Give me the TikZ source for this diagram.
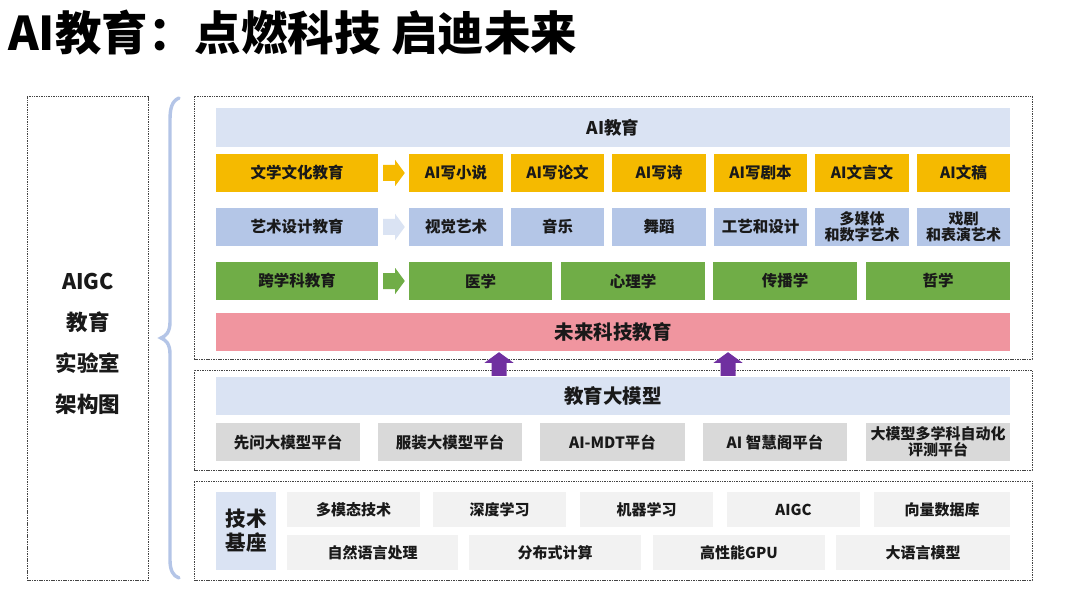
\documentclass[tikz,border=0pt]{standalone}
\usepackage{fontspec}
\setmainfont{Noto Sans CJK SC}
\usetikzlibrary{calc}
\definecolor{cyel}{HTML}{F5BA00}
\definecolor{clav}{HTML}{B4C6E7}
\definecolor{clight}{HTML}{DAE3F3}
\definecolor{cgreen}{HTML}{70AD47}
\definecolor{cpink}{HTML}{F0959F}
\definecolor{cgrey}{HTML}{D9D9D9}
\definecolor{cpale}{HTML}{F2F2F2}
\definecolor{cpurple}{HTML}{7030A0}
\definecolor{cbrace}{HTML}{B4C5E7}
\definecolor{cdash}{HTML}{444444}
\newcommand\bx[7]{\node[#6, minimum width={(#4-#2)*1pt}, minimum height={(#5-#3)*1pt}] (#1) at ({(#2+#4)/2},{(#3+#5)/2}) {#7};}
\begin{document}
\begin{tikzpicture}[x=1pt,y=-1pt,
  base/.style={inner sep=0pt, text=black!90, font=\bfseries\fontsize{15.5}{17}\selectfont, align=center},
  yel/.style={base, fill=cyel},
  lav/.style={base, fill=clav},
  grn/.style={base, fill=cgreen},
  gry/.style={base, fill=cgrey},
  pale/.style={base, fill=cpale, font=\bfseries\fontsize{15}{17}\selectfont},
  bigbar/.style={base, font=\bfseries\fontsize{19.5}{21}\selectfont},
  dashbox/.style={draw=cdash, line width=0.7pt, dash pattern=on 1.5pt off 0.9pt},
  two/.style={font=\bfseries\fontsize{15}{16}\selectfont}
]
\useasboundingbox (0,0) rectangle (1080,607);
\fill[white] (0,0) rectangle (1080,607);

% title
\node[anchor=west, inner sep=0pt, font=\bfseries\fontsize{46.5}{50}\selectfont] (title) at (8,33) {AI教育：点燃科技 启迪未来};

% dashed frames
\bx{leftbox}{27}{96}{148}{580}{dashbox}{}
\bx{topbox}{194}{96}{1032}{359}{dashbox}{}
\bx{midbox}{194}{370}{1032}{470}{dashbox}{}
\bx{botbox}{194}{481}{1032}{580}{dashbox}{}

% left label
\node[base, font=\bfseries\fontsize{21.5}{41}\selectfont] (lab) at (88,344) {AIGC\\教育\\实验室\\架构图};

% brace
\draw[cbrace, line width=3.4pt, line cap=round]
  (179,98) .. controls (172,101) and (170,108) .. (170,120)
  -- (170,322) .. controls (170,332) and (166,336) .. (161,338)
  .. controls (166,340) and (170,344) .. (170,354)
  -- (170,560) .. controls (170,570) and (173,576) .. (179,578);

% header
\bx{hdr}{216}{108}{1010}{147}{bigbar, fill=clight, font=\bfseries\fontsize{17.5}{19}\selectfont}{AI教育}

% row 1
\bx{lit}{216}{154}{378}{192}{yel}{文学文化教育}
\bx{a1}{409}{154}{503}{192}{yel}{AI写小说}
\bx{a2}{511}{154}{604}{192}{yel}{AI写论文}
\bx{a3}{612}{154}{706}{192}{yel}{AI写诗}
\bx{a4}{714}{154}{807}{192}{yel}{AI写剧本}
\bx{a5}{815}{154}{909}{192}{yel}{AI文言文}
\bx{a6}{917}{154}{1010}{192}{yel}{AI文稿}

% row 2
\bx{art}{216}{208}{378}{246}{lav}{艺术设计教育}
\bx{b1}{409}{208}{503}{246}{lav}{视觉艺术}
\bx{b2}{511}{208}{604}{246}{lav}{音乐}
\bx{b3}{612}{208}{706}{246}{lav}{舞蹈}
\bx{b4}{714}{208}{807}{246}{lav}{工艺和设计}
\bx{b5}{815}{208}{909}{246}{lav, two}{多媒体\\和数字艺术}
\bx{b6}{917}{208}{1010}{246}{lav, two}{戏剧\\和表演艺术}

% row 3
\bx{cross}{216}{262}{378}{300}{grn}{跨学科教育}
\bx{c1}{409}{262}{552}{300}{grn}{医学}
\bx{c2}{561}{262}{705}{300}{grn}{心理学}
\bx{c3}{713}{262}{857}{300}{grn}{传播学}
\bx{c4}{866}{262}{1010}{300}{grn}{哲学}

% block arrows between category and items
\foreach \src/\dst/\col in {lit/a1/cyel, art/b1/clight, cross/c1/cgreen}{
  \fill[\col] ($(\src.east)+(5,-8)$) -- ($(\src.east)+(17,-8)$) -- ($(\src.east)+(17,-13)$)
     -- ($(\dst.west)+(-4,0)$) -- ($(\src.east)+(17,13)$) -- ($(\src.east)+(17,8)$)
     -- ($(\src.east)+(5,8)$) -- cycle;
}

% future bar
\bx{fut}{216}{313}{1010}{351}{bigbar, fill=cpink}{未来科技教育}

% model bar
\bx{model}{216}{377}{1010}{415}{bigbar, fill=clight}{教育大模型}

% purple arrows
\coordinate (p1) at (499,0);
\coordinate (p2) at (728,0);
\foreach \p in {p1,p2}{
  \path (\p |- model.north) coordinate (pb) (\p |- fut.south) coordinate (pt);
  \fill[cpurple] ($(pb)+(-7.5,-1)$) -- ($(pb)+(-7.5,-14)$) -- ($(pb)+(-14.5,-14)$)
     -- ($(pt)+(0,1)$) -- ($(pb)+(14.5,-14)$) -- ($(pb)+(7.5,-14)$) -- ($(pb)+(7.5,-1)$) -- cycle;
}

% platform row
\bx{g1}{216}{423}{360}{461}{gry}{先问大模型平台}
\bx{g2}{378}{423}{522}{461}{gry}{服装大模型平台}
\bx{g3}{540}{423}{685}{461}{gry}{AI-MDT平台}
\bx{g4}{703}{423}{847}{461}{gry}{AI 智慧阁平台}
\bx{g5}{866}{423}{1010}{461}{gry, two}{大模型多学科自动化\\评测平台}

% tech base
\bx{tech}{216}{492}{276}{570}{base, fill=clight, font=\bfseries\fontsize{20.5}{24}\selectfont}{技术\\基座}
\bx{t1}{287}{492}{420}{527}{pale}{多模态技术}
\bx{t2}{433}{492}{566}{527}{pale}{深度学习}
\bx{t3}{580}{492}{713}{527}{pale}{机器学习}
\bx{t4}{727}{492}{860}{527}{pale}{AIGC}
\bx{t5}{874}{492}{1010}{527}{pale}{向量数据库}
\bx{u1}{287}{535}{458}{570}{pale}{自然语言处理}
\bx{u2}{469}{535}{641}{570}{pale}{分布式计算}
\bx{u3}{653}{535}{825}{570}{pale}{高性能GPU}
\bx{u4}{836}{535}{1010}{570}{pale}{大语言模型}
\end{tikzpicture}
\end{document}
